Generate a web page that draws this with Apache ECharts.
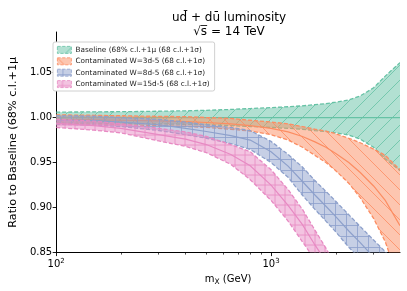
<!DOCTYPE html>
<html><head><meta charset="utf-8">
<script src="https://cdn.jsdelivr.net/npm/echarts@6/dist/echarts.min.js"></script>
<style>html,body{margin:0;padding:0;background:#fff}#c{width:407px;height:291px}</style>
</head><body><div id="c"></div>
<script>
// ---- data ----
const masses = [100,150,200,300,400,500,650,800,1000,1200,1400,1600,1800,2000,2300,2600,3000,3400,3981];
const seriesNames = [
  'Baseline (68% c.l.+1\u03bc (68 c.l.+1\u03c3)',
  'Contaminated W=3d-5 (68 c.l.+1\u03c3)',
  'Contaminated W=8d-5 (68 c.l.+1\u03c3)',
  'Contaminated W=15d-5 (68 c.l.+1\u03c3)'
];
const baselineLower  = [0.994,0.9937,0.9935,0.993,0.9925,0.992,0.991,0.990,0.989,0.988,0.987,0.9855,0.9845,0.983,0.9805,0.976,0.967,0.954,0.941];
const baselineCenter = [1.0,1.0,1.0,1.0,1.0,1.0,1.0,1.0,1.0,1.0,1.0,1.0,1.0,1.0,1.0,1.0,1.0,1.0,1.0];
const baselineUpper  = [1.006,1.0063,1.0065,1.007,1.0075,1.008,1.009,1.010,1.011,1.012,1.013,1.0143,1.0155,1.017,1.0195,1.024,1.033,1.046,1.061];
const w3Lower  = [0.993,0.9925,0.992,0.991,0.990,0.989,0.987,0.985,0.981,0.975,0.967,0.958,0.950,0.941,0.927,0.911,0.888,0.862,0.815];
const w3Center = [0.998,0.9975,0.997,0.9962,0.9955,0.9945,0.993,0.991,0.988,0.984,0.979,0.973,0.967,0.960,0.950,0.939,0.924,0.908,0.880];
const w3Upper  = [1.003,1.0025,1.002,1.0013,1.001,1.000,0.999,0.997,0.995,0.993,0.990,0.987,0.985,0.982,0.977,0.972,0.965,0.958,0.942];
const w8Lower  = [0.9925,0.9915,0.990,0.9856,0.981,0.977,0.971,0.9646,0.950,0.9336,0.9137,0.898,0.885,0.873,0.856,0.843,0.826,0.812,0.795];
const w8Center = [0.997,0.9965,0.995,0.992,0.988,0.9845,0.980,0.975,0.962,0.946,0.929,0.914,0.9015,0.890,0.874,0.861,0.845,0.8315,0.8145];
const w8Upper  = [1.002,1.0015,1.000,0.998,0.995,0.992,0.989,0.9856,0.9735,0.959,0.945,0.930,0.918,0.907,0.892,0.879,0.864,0.851,0.834];
const w15Lower  = [0.989,0.986,0.983,0.974,0.968,0.961,0.948,0.931,0.908,0.885,0.862,0.842,0.825,0.808,0.785,0.76,0.73,0.70,0.65];
const w15Center = [0.9935,0.991,0.988,0.981,0.976,0.970,0.959,0.9465,0.925,0.9025,0.881,0.8585,0.840,0.8215,0.797,0.772,0.742,0.712,0.665];
const w15Upper  = [0.998,0.996,0.993,0.988,0.984,0.979,0.970,0.962,0.942,0.920,0.898,0.875,0.855,0.835,0.809,0.784,0.754,0.724,0.68];
const yTicks = [0.85,0.90,0.95,1.00,1.05];
const xMajorTicks = [100,1000];
const xMinorTicks = [200,300,400,500,600,700,800,900,2000,3000];
const xTickLabels = {100:'{b|10}{s|2}', 1000:'{b|10}{s|3}'};
const xMin = 100, xMax = 3981;

// ---- styles ----
const FONT = 'DejaVu Sans';
const lineColors = ['#66c2a5','#fc8d62','#8da0cb','#e78ac3'];
const fillColors = ['rgba(102,194,165,0.5)','rgba(252,141,98,0.5)','rgba(141,160,203,0.5)','rgba(231,138,195,0.5)'];
const hatchKinds = ['/','\\','+','+'];

function makeHatch(fill, stroke, kind, size){
  const c = document.createElement('canvas');
  c.width = size; c.height = size;
  const g = c.getContext('2d');
  g.fillStyle = fill; g.fillRect(0,0,size,size);
  g.strokeStyle = stroke; g.lineWidth = 0.8; g.beginPath();
  if (kind === '/') {
    g.moveTo(-1,size+1); g.lineTo(size+1,-1);
    g.moveTo(-1,1); g.lineTo(1,-1);
    g.moveTo(size-1,size+1); g.lineTo(size+1,size-1);
  } else if (kind === '\\') {
    g.moveTo(-1,-1); g.lineTo(size+1,size+1);
    g.moveTo(size-1,-1); g.lineTo(size+1,1);
    g.moveTo(-1,size-1); g.lineTo(1,size+1);
  } else {
    g.moveTo(0,size/2); g.lineTo(size,size/2);
    g.moveTo(size/2,0); g.lineTo(size/2,size);
  }
  g.stroke();
  return {image: c, repeat: 'repeat'};
}
const patterns = [
  makeHatch(fillColors[0], lineColors[0], hatchKinds[0], 15),
  makeHatch(fillColors[1], lineColors[1], hatchKinds[1], 15),
  makeHatch(fillColors[2], lineColors[2], hatchKinds[2], 11),
  makeHatch(fillColors[3], lineColors[3], hatchKinds[3], 10)
];

const bands = [
  [baselineLower, baselineCenter, baselineUpper],
  [w3Lower, w3Center, w3Upper],
  [w8Lower, w8Center, w8Upper],
  [w15Lower, w15Center, w15Upper]
];

function bandRender(k){
  const [lower, center, upper] = bands[k];
  return function(params, api){
    const cs = params.coordSys;
    const up = masses.map((m,i)=>api.coord([m, upper[i]]));
    const lo = masses.map((m,i)=>api.coord([m, lower[i]]));
    const ce = masses.map((m,i)=>api.coord([m, center[i]]));
    const poly = up.concat(lo.slice().reverse());
    const col = lineColors[k];
    return {
      type:'group',
      clipPath:{type:'rect', shape:{x:cs.x, y:cs.y-1, width:cs.width, height:cs.height+1}},
      children:[
        {type:'polygon', shape:{points:poly}, style:{fill:patterns[k], stroke:null}},
        {type:'polyline', shape:{points:up}, style:{fill:null, stroke:col, lineWidth:1.3, lineDash:[4,2]}},
        {type:'polyline', shape:{points:lo}, style:{fill:null, stroke:col, lineWidth:1.3, lineDash:[4,2]}},
        {type:'polyline', shape:{points:ce}, style:{fill:null, stroke:col, lineWidth:1.2}}
      ]
    };
  };
}

// tick-only axes laid out in log10 space (same extent as the log axis)
function tickAxis(values, len, width){
  return {
    type:'value', position:'bottom', min:Math.log10(xMin), max:Math.log10(xMax),
    axisLine:{show:false},
    axisTick:{show:true, inside:false, length:len, lineStyle:{color:'#000', width:width}, customValues:values.map(v=>Math.log10(v))},
    axisLabel:{show:false}, splitLine:{show:false}
  };
}

const chart = echarts.init(document.getElementById('c'), null, {renderer:'canvas'});
const option = {
  animation:false,
  backgroundColor:'#fff',
  textStyle:{fontFamily:FONT},
  title:{
    text:'ud\u0304 + du\u0304 luminosity\n\u221as\u0305 = 14 TeV',
    left:224, top:6, textAlign:'center',
    textStyle:{fontFamily:FONT, fontSize:12, fontWeight:'normal', color:'#000', lineHeight:14}
  },
  legend:{
    orient:'vertical', left:53, top:42,
    padding:[4,5,3,4], itemGap:3.6, itemWidth:14, itemHeight:7,
    backgroundColor:'#fff', borderColor:'#d0d0d0', borderWidth:1, borderRadius:2,
    icon:'rect',
    textStyle:{fontFamily:FONT, fontSize:7.3, color:'#222', padding:[0,0,0,-1]},
    data: seriesNames.map((n,k)=>({name:n, icon:'rect', itemStyle:{color:patterns[k], borderColor:lineColors[k], borderWidth:0.8, borderType:'dashed'}}))
  },
  grid:{left:48, right:7, top:32, bottom:37, containLabel:false},
  xAxis:[{
    type:'log', logBase:10, min:xMin, max:xMax,
    name:'m{sub|X} (GeV)', nameLocation:'middle', nameGap:19,
    nameTextStyle:{fontFamily:FONT, fontSize:10, color:'#000', rich:{sub:{fontFamily:FONT, fontSize:7.5, color:'#000', padding:[6,0,0,0]}}},
    axisLine:{show:true, lineStyle:{color:'#000', width:1}},
    axisTick:{show:false},
    axisLabel:{show:true, margin:5, customValues:xMajorTicks, formatter:v=>xTickLabels[Math.round(v)]||'',
      rich:{b:{fontFamily:FONT, fontSize:10, color:'#000'}, s:{fontFamily:FONT, fontSize:7, color:'#000', padding:[0,0,6,0]}}},
    splitLine:{show:false}, minorTick:{show:false}
  },
  tickAxis(xMajorTicks, 3.5, 0.9),
  tickAxis(xMinorTicks, 2, 0.7)
  ],
  yAxis:{
    type:'value', min:0.85, max:1.095,
    name:'Ratio to Baseline (68% c.l.+1\u03bc', nameLocation:'middle', nameGap:32,
    nameTextStyle:{fontFamily:FONT, fontSize:11.2, color:'#000'},
    axisLine:{show:true, lineStyle:{color:'#000', width:1}},
    axisTick:{show:true, length:3.5, lineStyle:{color:'#000', width:0.9}, customValues:yTicks},
    axisLabel:{margin:4, fontFamily:FONT, fontSize:10, color:'#000', customValues:yTicks, formatter:v=>v.toFixed(2)},
    splitLine:{show:false}
  },
  series: seriesNames.map((n,k)=>({
    type:'custom', name:n, coordinateSystem:'cartesian2d', xAxisIndex:0,
    itemStyle:{color:lineColors[k]},
    data:[[masses[0], bands[k][1][0]]],
    renderItem: bandRender(k),
    z: 2+k
  }))
};
chart.setOption(option);
</script>
</body></html>
